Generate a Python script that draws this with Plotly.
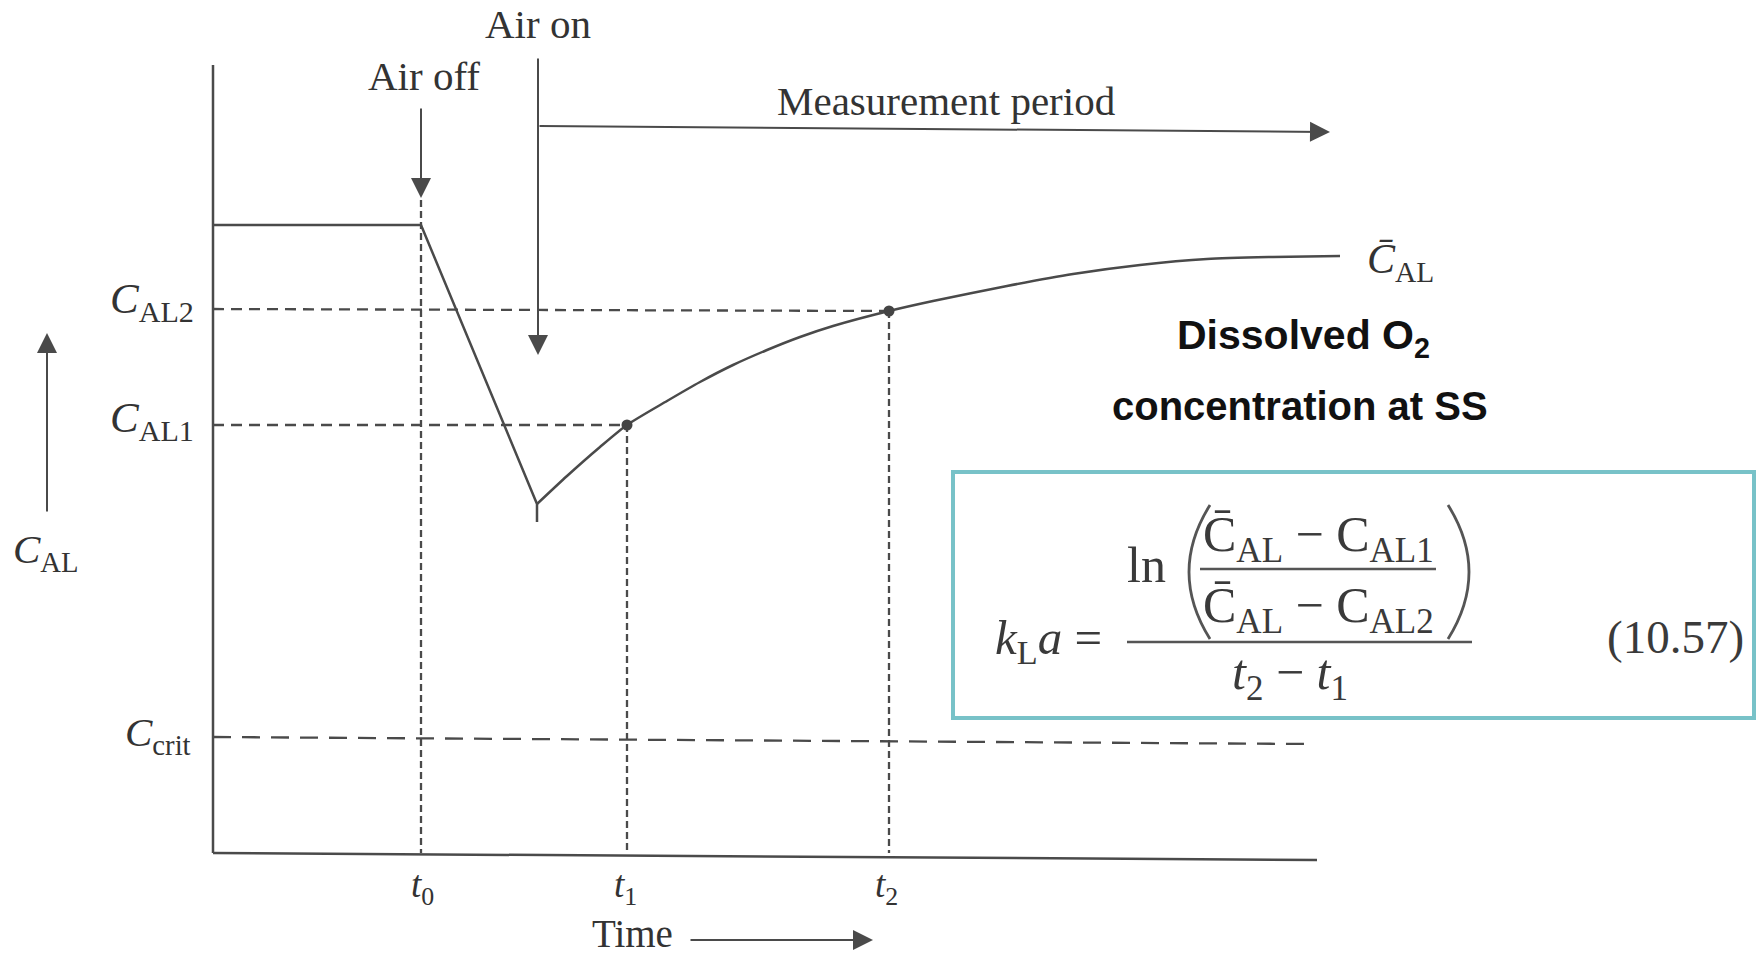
import plotly.graph_objects as go

W, H = 1757, 957

# ---------------- data (arbitrary time / concentration units) -------------
# steady state level, air switched off at t0, linear drop until air switched on
drop_t = [0.0, 2.08, 3.24, 3.24]
drop_c = [6.28, 6.28, 3.49, 3.31]
# recovery after air on
rec_t = [3.24, 3.54, 3.87, 4.14, 4.54, 4.87, 5.20, 5.54, 5.87, 6.20, 6.76,
         7.20, 7.94, 8.60, 9.27, 9.94, 10.60, 11.27]
rec_c = [3.49, 3.77, 4.06, 4.28, 4.52, 4.71, 4.88, 5.03, 5.16, 5.27, 5.42,
         5.52, 5.67, 5.79, 5.88, 5.94, 5.96, 5.97]

t0, t1, t2 = 2.08, 4.14, 6.76
t_air_on = 3.25
C_AL1, C_AL2 = 4.28, 5.42
C_bar = 5.97
crit_t = [0.0, 10.96]
crit_c = [1.16, 1.09]

xaxis_t = [0.0, 11.04]
xaxis_c = [0.0, -0.07]
yaxis_t = [0.0, 0.0]
yaxis_c = [0.0, 7.88]

tick_labels = ["<i>t</i><sub>0</sub>", "<i>t</i><sub>1</sub>", "<i>t</i><sub>2</sub>"]
tick_pos = [t0 + 0.01, t1 - 0.02, t2 - 0.03]

LINE = "#4a4a4a"
TXT = "#333333"
SERIF = "Liberation Serif"

fig = go.Figure()

def line(xs, ys, width=2.5, dash=None, shape="linear"):
    fig.add_trace(go.Scatter(
        x=xs, y=ys, mode="lines", hoverinfo="skip",
        line=dict(color=LINE, width=width, dash=dash, shape=shape, smoothing=0.7)))

# axes drawn as lines
line(yaxis_t, yaxis_c, 2.5)
line(xaxis_t, xaxis_c, 2.5)

# dashed guide lines
VD = "7px,4px"
HD = "11px,7px"
line([t0, t0], [6.53, 0.0], 2.3, VD)
line([t1, t1], [C_AL1, 0.0], 2.3, VD)
line([t2, t2], [C_AL2, 0.0], 2.3, VD)
line([0.0, t1], [C_AL1, C_AL1], 2.3, HD)
line([0.0, t2], [C_AL2 + 0.02, C_AL2], 2.3, HD)
line(crit_t, crit_c, 2.3, "18px,11px")

# concentration trace
line(drop_t, drop_c, 2.5)
line(rec_t, rec_c, 2.5, shape="spline")

# measured points
fig.add_trace(go.Scatter(x=[t1, t2], y=[C_AL1, C_AL2], mode="markers", hoverinfo="skip",
                         marker=dict(color="#444444", size=11)))

ann = []

def arrow(x, y, ax, ay):
    ann.append(dict(x=x, y=y, ax=ax, ay=ay, xref="x", yref="y", axref="x", ayref="y",
                    text="", showarrow=True, arrowhead=2, arrowsize=2.0, arrowwidth=2,
                    arrowcolor=LINE, standoff=0, startstandoff=0))

def label(x, y, text, size, xanchor="center", family=SERIF, color=TXT, yanchor="middle", **kw):
    ann.append(dict(x=x, y=y, xref="x", yref="y", text=text, showarrow=False,
                    xanchor=xanchor, yanchor=yanchor,
                    font=dict(family=family, size=size, color=color), **kw))

# event arrows
arrow(t0, 6.55, t0, 7.46)
label(t0 + 0.03, 7.77, "Air off", 41)
arrow(t_air_on, 4.98, t_air_on, 7.96)
label(t_air_on, 8.29, "Air on", 41)
arrow(11.17, 7.21, t_air_on, 7.27)
label(7.33, 7.52, "Measurement period", 41)

# y label arrow and label
arrow(-1.66, 5.20, -1.66, 3.40)
label(-1.67, 3.01, "<i>C</i><sub>AL</sub>", 41)

# time arrow and label
arrow(6.60, -0.87, 4.76, -0.87)
label(4.19, -0.80, "Time", 39)

# level labels
label(-0.17, C_AL2 + 0.09, "<i>C</i><sub>AL2</sub>", 43, xanchor="right")
label(-0.17, C_AL1 + 0.04, "<i>C</i><sub>AL1</sub>", 43, xanchor="right")
label(-0.20, crit_c[0] + 0.02, "<i>C</i><sub>crit</sub>", 41, xanchor="right")
label(11.52, C_bar - 0.06, "<i>C\u0304</i><sub>AL</sub>", 42, xanchor="left")

for tp, tl in zip(tick_pos, tick_labels):
    label(tp, -0.34, tl, 37)

# bold note
label(10.90, 5.15, "<b>Dissolved O<sub>2</sub></b>", 41, family="Liberation Sans", color="#111111")
label(10.87, 4.47, "<b>concentration at SS</b>", 40, family="Liberation Sans", color="#111111")

# ---------------- formula box (paper coordinates) ----------------
def px(x):
    return x / W

def py(y):
    return 1 - y / H

def ptext(x, y, text, size, xanchor="center"):
    ann.append(dict(x=px(x), y=py(y), xref="paper", yref="paper", text=text, showarrow=False,
                    xanchor=xanchor, yanchor="middle",
                    font=dict(family=SERIF, size=size, color="#3a3a3a")))

ptext(1104, 640, "<i>k</i><sub>L</sub><i>a</i> =", 49, xanchor="right")
ptext(1146, 565, "ln", 50)
ptext(1318, 538, "C\u0304<sub>AL</sub> − C<sub>AL1</sub>", 50)
ptext(1318, 609, "C\u0304<sub>AL</sub> − C<sub>AL2</sub>", 50)
ptext(1290, 676, "<i>t</i><sub>2</sub> − <i>t</i><sub>1</sub>", 50)
ptext(1675, 637, "(10.57)", 47)

shapes = [
    dict(type="rect", xref="paper", yref="paper", x0=px(953), x1=px(1754), y0=py(472), y1=py(718),
         line=dict(color="#78C2C8", width=4), fillcolor="rgba(0,0,0,0)"),
    dict(type="line", xref="paper", yref="paper", x0=px(1127), x1=px(1472), y0=py(642), y1=py(642),
         line=dict(color="#555555", width=2.5)),
    dict(type="line", xref="paper", yref="paper", x0=px(1200), x1=px(1436), y0=py(569), y1=py(569),
         line=dict(color="#555555", width=2.5)),
    dict(type="path", xref="paper", yref="paper",
         path=f"M {px(1210)},{py(505)} Q {px(1168)},{py(572)} {px(1210)},{py(639)}",
         line=dict(color="#555555", width=2.8)),
    dict(type="path", xref="paper", yref="paper",
         path=f"M {px(1448)},{py(505)} Q {px(1490)},{py(572)} {px(1448)},{py(639)}",
         line=dict(color="#555555", width=2.8)),
]

fig.update_layout(
    width=W, height=H,
    margin=dict(l=0, r=0, t=0, b=0),
    paper_bgcolor="white", plot_bgcolor="white",
    showlegend=False,
    xaxis=dict(range=[-2.13, 15.44], visible=False, fixedrange=True),
    yaxis=dict(range=[-1.04, 8.53], visible=False, fixedrange=True),
    annotations=ann,
    shapes=shapes,
)

fig.write_html("out.html", config={"displayModeBar": False},
               post_script="document.body.style.margin='0px';document.body.style.overflow='hidden';")
